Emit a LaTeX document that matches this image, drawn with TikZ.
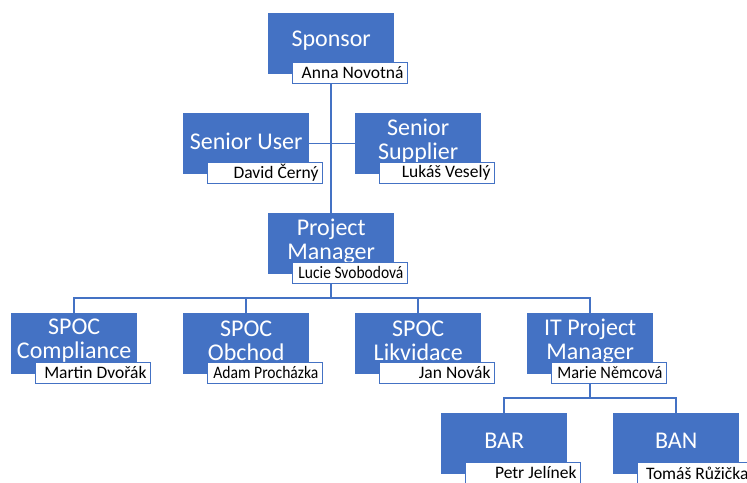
\documentclass[tikz,border=0pt]{standalone}
\usepackage{fontspec}
\usepackage{graphicx}
\setmainfont{Carlito}
\usetikzlibrary{backgrounds}
\definecolor{orgblue}{HTML}{4472C4}
\tikzset{
  rolebox/.style={rectangle, fill=orgblue, draw=none, minimum width=126pt, minimum height=61pt, inner sep=0pt, anchor=north west},
  roletext/.style={text=white, font=\fontsize{24}{24}\selectfont, align=center, inner sep=0pt},
  namebox/.style={rectangle, fill=white, draw=orgblue, line width=0.9pt, minimum width=115pt, minimum height=21pt,
    inner xsep=4pt, inner ysep=0pt, font=\fontsize{17.5}{18}\selectfont, anchor=north west},
  link/.style={draw=orgblue, line width=1.5pt}
}
% squeeze a long person name so that it stays inside its tag
\newsavebox\personbx
\newcommand\fitname[1]{\sbox\personbx{#1}%
  \ifdim\wd\personbx>105pt\resizebox{105pt}{\height}{\usebox\personbx}\else\usebox\personbx\fi}
% box with a title and a person tag at its lower right
\newcommand\orgunit[5]{%
  \node[rolebox] (#1) at (#2,#3) {};
  \node[roletext] (#1-t) at ([yshift=-28pt]#1.north) {#4};
  \node[namebox] (#1-n) at ([xshift=24pt,yshift=-49pt]#1.north west) {\makebox[107pt][r]{\fitname{#5}}};
}
\begin{document}
\begin{tikzpicture}[x=1pt,y=-1pt]
\useasboundingbox (0,0) rectangle (747,482);
\begin{scope}
\clip (0,0) rectangle (747,482);
\orgunit{sp}{268}{13}{Sponsor}{Anna Novotná}
\orgunit{su}{183}{113}{Senior User}{David Černý}
\orgunit{ss}{355}{113}{Senior\\Supplier}{Lukáš Veselý}
\orgunit{pm}{268}{213}{Project\\Manager}{Lucie Svobodová}
\orgunit{c1}{11}{313}{SPOC\\Compliance}{Martin Dvořák}
\orgunit{c2}{183}{313}{SPOC\\Obchod}{Adam Procházka}
\orgunit{c3}{355}{313}{SPOC\\Likvidace}{Jan Novák}
\orgunit{it}{527}{313}{IT Project\\Manager}{Marie Němcová}
\orgunit{ba}{441}{413}{BAR}{Petr Jelínek}
\orgunit{bn}{613}{413}{BAN}{Tomáš Růžička}
\coordinate (bus3) at (0,298);
\coordinate (bus4) at (0,398);
\begin{scope}[on background layer]
  \draw[link] (sp.south) -- (pm.north);
  \draw[link] (su.east) -- (ss.west);
  \draw[link] (pm.south) -- (pm.south |- bus3);
  \draw[link] (c1.north) -- (c1.north |- bus3) -- (it.north |- bus3) -- (it.north);
  \draw[link] (c2.north) -- (c2.north |- bus3);
  \draw[link] (c3.north) -- (c3.north |- bus3);
  \draw[link] (it.south) -- (it.south |- bus4);
  \draw[link] (ba.north) -- (ba.north |- bus4) -- (bn.north |- bus4) -- (bn.north);
\end{scope}
\end{scope}
\end{tikzpicture}
\end{document}
